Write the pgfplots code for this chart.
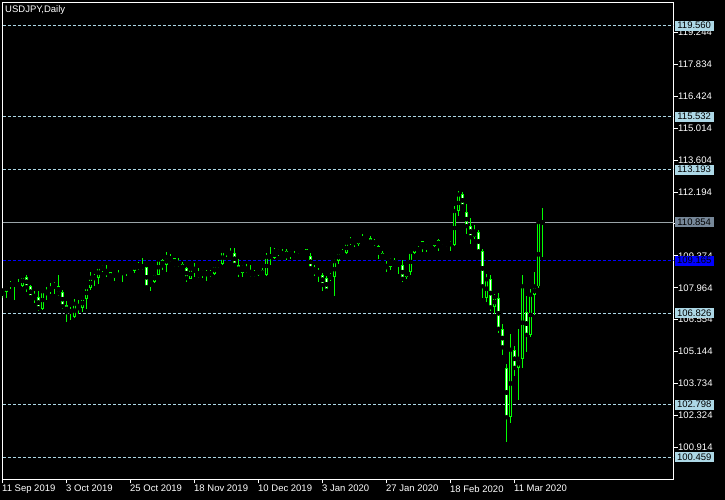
\documentclass[border=0pt]{standalone}
\usepackage{pgfplots}
\pgfplotsset{compat=1.18}
\usepackage{pgfplotstable}
\usepackage{fontspec}
\setmainfont{Liberation Sans}
\definecolor{mtgreen}{HTML}{00FF00}
\definecolor{mtlblue}{HTML}{ADD8E6}
\definecolor{mtgray}{HTML}{778899}
\definecolor{mtlgray}{HTML}{9AA4A8}

\pgfplotstableread{
i o h l c
0 107.58 107.89 107.49 107.84
1 107.77 108.18 107.50 108.09
2 108.08 108.28 107.92 108.11
3 108.03 108.21 107.44 108.17
4 108.17 108.36 107.98 108.06
5 108.06 108.51 107.98 108.46
6 108.46 108.51 107.77 107.99
7 108.02 108.09 107.50 107.55
8 107.70 107.80 107.28 107.50
9 107.55 107.80 106.94 107.06
10 107.03 107.87 106.99 107.80
11 107.84 107.98 107.40 107.72
12 107.81 108.18 107.70 107.94
13 107.94 108.21 107.70 108.09
14 108.06 108.51 107.58 107.72
15 107.77 107.87 107.03 107.15
16 107.18 107.36 106.44 106.88
17 106.90 107.13 106.52 106.93
18 106.66 107.48 106.62 107.25
19 107.25 107.44 106.81 107.06
20 107.06 107.62 106.91 107.50
21 107.48 108.02 107.03 107.98
22 107.94 108.65 107.87 108.40
23 108.36 108.58 108.03 108.43
24 108.40 108.92 108.11 108.87
25 108.76 108.98 108.65 108.87
26 108.80 108.95 108.43 108.61
27 108.65 108.68 108.32 108.36
28 108.39 108.68 108.25 108.61
29 108.58 108.73 108.40 108.48
30 108.51 108.76 108.21 108.73
31 108.58 108.83 108.48 108.76
32 108.70 108.77 108.51 108.56
33 108.70 109.09 108.63 109.02
34 109.02 109.09 108.73 108.87
35 108.83 109.29 108.73 108.92
36 108.87 108.90 107.92 107.99
37 107.99 108.28 107.84 108.21
38 108.21 108.65 108.17 108.58
39 108.54 109.27 108.51 109.20
40 109.17 109.24 108.77 108.95
41 108.95 109.54 108.65 109.32
42 109.32 109.47 109.09 109.21
43 109.27 109.29 108.87 108.99
44 108.95 109.29 108.90 109.07
45 109.01 109.09 108.70 108.77
46 108.83 108.90 108.21 108.39
47 108.36 108.85 108.33 108.80
48 108.65 109.07 108.46 108.80
49 108.68 108.85 108.40 108.51
50 108.51 108.77 108.39 108.65
51 108.65 108.76 108.25 108.56
52 108.54 108.73 108.43 108.61
53 108.58 109.02 108.54 108.95
54 108.87 109.20 108.85 109.05
55 109.02 109.61 108.98 109.58
56 109.57 109.58 109.32 109.49
57 109.43 109.71 109.39 109.51
58 109.51 109.74 108.92 108.98
59 108.98 109.24 108.46 108.63
60 108.63 108.95 108.43 108.87
61 108.87 109.02 108.63 108.73
62 108.77 108.95 108.46 108.55
63 108.65 108.73 108.43 108.54
64 108.51 108.80 108.48 108.76
65 108.73 108.85 108.48 108.54
66 108.54 109.49 108.49 109.32
67 109.39 109.76 108.95 109.32
68 109.27 109.71 109.24 109.58
69 109.45 109.66 109.39 109.57
70 109.57 109.66 109.36 109.42
71 109.57 109.69 109.17 109.36
72 109.36 109.57 109.24 109.49
73 109.42 109.57 109.27 109.39
74 109.39 109.49 109.29 109.36
75 109.54 109.73 109.51 109.69
76 109.66 109.69 109.36 109.43
77 109.39 109.51 108.73 108.83
78 108.90 108.95 108.48 108.65
79 108.76 108.83 108.21 108.55
80 108.55 108.63 107.80 108.09
81 108.39 108.48 107.77 107.84
82 108.33 108.63 108.25 108.48
83 108.43 109.24 107.62 109.13
84 109.13 109.61 109.02 109.51
85 109.49 109.69 109.42 109.54
86 109.51 109.98 109.47 109.95
87 109.95 110.23 109.86 110.05
88 109.88 110.09 109.76 110.01
89 109.88 110.23 109.83 110.17
90 110.20 110.32 110.02 110.10
91 110.13 110.24 110.10 110.20
92 110.17 110.24 109.76 109.83
93 109.91 110.13 109.79 109.98
94 109.83 109.86 109.24 109.51
95 109.51 109.57 109.17 109.24
96 108.98 109.14 108.68 108.87
97 108.87 109.27 108.73 109.17
98 109.14 109.29 108.95 109.02
99 108.92 109.14 108.55 109.05
100 108.95 109.17 108.21 108.36
101 108.43 108.80 108.33 108.70
102 108.68 109.61 108.51 109.54
103 109.51 109.91 109.47 109.83
104 109.80 110.02 109.76 110.01
105 110.01 110.05 109.54 109.76
106 109.69 109.91 109.54 109.80
107 109.76 109.91 109.71 109.80
108 109.79 110.16 109.76 110.10
109 110.09 110.10 109.61 109.80
110 109.80 109.91 109.69 109.76
111 109.86 109.98 109.76 109.91
112 109.88 110.01 109.61 109.91
113 109.86 111.60 109.83 111.35
114 111.35 112.23 111.12 112.08
115 112.09 112.19 111.50 111.57
116 111.31 111.68 110.35 110.69
117 110.69 111.06 109.91 110.20
118 110.20 110.72 110.10 110.45
119 110.45 110.50 109.54 109.57
120 109.61 109.69 107.52 108.03
121 107.52 108.59 107.33 108.33
122 108.36 108.54 106.93 107.10
123 107.10 107.70 106.81 107.55
124 107.52 107.74 105.95 106.15
125 106.15 106.34 105.00 105.33
126 104.42 104.57 101.13 102.24
127 102.24 105.93 101.97 105.22
128 105.22 105.37 104.04 104.42
129 104.42 106.12 103.02 104.82
130 104.82 108.51 104.42 108.02
131 106.88 107.58 105.11 105.88
132 105.88 107.89 105.78 107.65
133 107.65 108.68 106.74 108.02
134 108.02 110.98 107.94 110.86
135 110.87 111.50 109.32 110.854
}\ohlc

\begin{document}
\begin{tikzpicture}[font=\fontsize{9.5bp}{11bp}\selectfont]
\path[use as bounding box] (0,0) rectangle (725bp,500bp);
\fill[black] (0,0) rectangle (725bp,500bp);
\begin{axis}[
  at={(2.5bp,20.5bp)}, anchor=south west,
  scale only axis, width=671bp, height=477bp,
  xmin=0, xmax=167.75, ymin=99.483, ymax=120.580,
  axis line style={white, line width=1bp},
  tick style={white, line width=1bp},
  tick align=outside, major tick length=4bp,
  xtick={0,16,32,48,64,80,96,112,128},
  xticklabels={11 Sep 2019,3 Oct 2019,25 Oct 2019,18 Nov 2019,10 Dec 2019,3 Jan 2020,27 Jan 2020,18 Feb 2020,11 Mar 2020},
  xtick pos=bottom, ytick pos=right, yticklabel pos=right,
  ytick={100.914,102.324,103.734,105.144,106.554,107.964,109.374,110.784,112.194,113.604,115.014,116.424,117.834,119.244},
  yticklabels={100.914,102.324,103.734,105.144,106.554,107.964,109.374,110.784,112.194,113.604,115.014,116.424,117.834,119.244},
  xticklabel style={text=white, anchor=north west, inner sep=0pt, xshift=-0.5bp, yshift=-1.5bp},
  yticklabel style={text=white, anchor=west, inner sep=0pt, xshift=0.5bp},
  /pgf/number format/assume math mode=true,
]
% special horizontal lines
\addplot[mtlblue, line width=1bp, dash pattern=on 3bp off 2bp] coordinates {(0,119.560) (167.75,119.560)};
\addplot[mtlblue, line width=1bp, dash pattern=on 3bp off 2bp] coordinates {(0,115.532) (167.75,115.532)};
\addplot[mtlblue, line width=1bp, dash pattern=on 3bp off 2bp] coordinates {(0,113.193) (167.75,113.193)};
\addplot[mtlblue, line width=1bp, dash pattern=on 3bp off 2bp] coordinates {(0,106.826) (167.75,106.826)};
\addplot[mtlblue, line width=1bp, dash pattern=on 3bp off 2bp] coordinates {(0,102.798) (167.75,102.798)};
\addplot[mtlblue, line width=1bp, dash pattern=on 3bp off 2bp] coordinates {(0,100.459) (167.75,100.459)};
\addplot[mtlgray, line width=1bp] coordinates {(0,110.854) (167.75,110.854)};
\addplot[blue, line width=1bp, dash pattern=on 3bp off 2bp] coordinates {(0,109.165) (167.75,109.165)};
% wicks
\addplot[only marks, mark=none, error bars/.cd, y dir=both, y explicit, error mark=none,
  error bar style={mtgreen, line width=1bp}]
  table[x=i, y=c, y error plus expr=\thisrow{h}-\thisrow{c}, y error minus expr=\thisrow{c}-\thisrow{l}] {\ohlc};
% body outlines
\addplot[only marks, mark=none, error bars/.cd, y dir=both, y explicit, error mark=none,
  error bar style={mtgreen, line width=3bp}]
  table[x=i, y expr=(\thisrow{o}+\thisrow{c})/2, y error expr={max(abs(\thisrow{o}-\thisrow{c})/2,0.0222)}] {\ohlc};
% bear interiors (white)
\addplot[only marks, mark=none, error bars/.cd, y dir=both, y explicit, error mark=none,
  error bar style={white, line width=1bp}]
  table[x=i, y expr=(\thisrow{o}+\thisrow{c})/2, y error expr={ifthenelse(\thisrow{o}>\thisrow{c}, max((\thisrow{o}-\thisrow{c})/2-0.0442,0), 0)}] {\ohlc};
% bull interiors (black)
\addplot[only marks, mark=none, error bars/.cd, y dir=both, y explicit, error mark=none,
  error bar style={black, line width=1bp}]
  table[x=i, y expr=(\thisrow{o}+\thisrow{c})/2, y error expr={ifthenelse(\thisrow{c}>\thisrow{o}, max((\thisrow{c}-\thisrow{o})/2-0.0442,0), 0)}] {\ohlc};
\coordinate (p1) at (axis cs:167.75,119.560);
\coordinate (p2) at (axis cs:167.75,115.532);
\coordinate (p3) at (axis cs:167.75,113.193);
\coordinate (p4) at (axis cs:167.75,110.854);
\coordinate (p5) at (axis cs:167.75,109.165);
\coordinate (p6) at (axis cs:167.75,106.826);
\coordinate (p7) at (axis cs:167.75,102.798);
\coordinate (p8) at (axis cs:167.75,100.459);
\end{axis}
\foreach \n/\v/\f in {p1/119.560/mtlblue,p2/115.532/mtlblue,p3/113.193/mtlblue,p4/110.854/mtgray,p5/109.165/blue,p6/106.826/mtlblue,p7/102.798/mtlblue,p8/100.459/mtlblue}
  \node[fill=\f, text=black, anchor=west, minimum width=39bp, minimum height=10bp, inner sep=0pt] at ([xshift=1bp]\n) {\v};
\node[text=white, anchor=west, inner sep=0pt] at (5bp,490bp) {USDJPY,Daily};
\end{tikzpicture}
\end{document}
